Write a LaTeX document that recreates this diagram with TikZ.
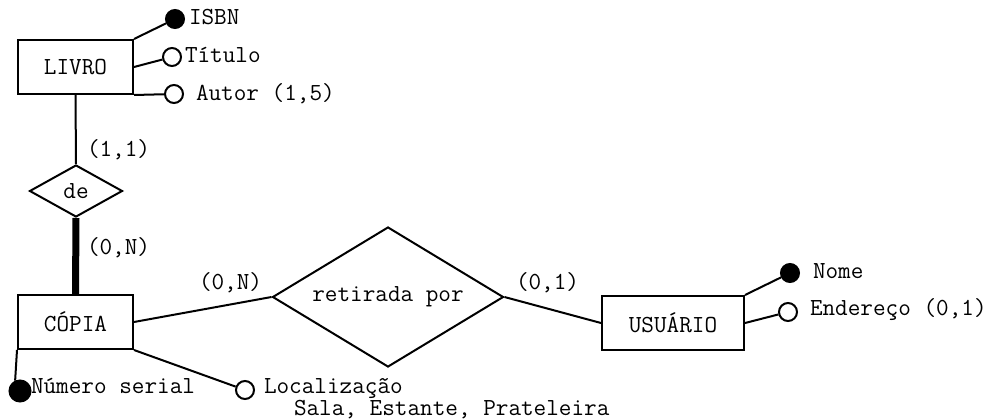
\documentclass[tikz,border=0pt]{standalone}
\usepackage{fontspec}
\usetikzlibrary{shapes.geometric}

\begin{document}
\begin{tikzpicture}[x=1pt,y=-1pt,line width=2pt,
  font=\ttfamily\fontsize{24.5}{28}\selectfont,
  entidade/.style={draw,rectangle,minimum height=54pt,inner sep=0pt},
  relacao/.style={draw,diamond,inner sep=0pt},
  atrib/.style={draw,circle,minimum size=18pt,inner sep=0pt},
  chave/.style={atrib,fill=black},
  rotulo/.style={anchor=base west,inner sep=0pt}]
  \useasboundingbox (0,0) rectangle (993,420);
  % entidades e relacionamentos
  \node[entidade,minimum width=115pt] (livro) at (75.5,67) {LIVRO};
  \node[entidade,minimum width=115pt] (copia) at (75.5,322) {CÓPIA};
  \node[entidade,minimum width=142pt] (usuario) at (673,323) {USUÁRIO};
  \node[relacao,minimum width=93pt,minimum height=52pt,aspect=1.8] (de) at (76,191) {de};
  \node[relacao,minimum width=231pt,minimum height=140pt,aspect=1.65] (retirada) at (388,297) {retirada por};
  \draw (livro.south) -- (de.north);
  \draw[line width=7pt] (de.south) -- (copia.north);
  \draw (copia.east) -- (retirada.west);
  \draw (retirada.east) -- (usuario.west);
  \node[rotulo] (c11) at (86,156) {(1,1)};
  \node[rotulo] (c0n) at (86,254) {(0,N)};
  \node[rotulo] (c0nr) at (198,289) {(0,N)};
  \node[rotulo] (c01r) at (515,289) {(0,1)};
  % atributos de LIVRO
  \node[chave] (isbn) at (175,19) {};
  \node[atrib] (titulo) at (172,57) {};
  \node[atrib] (autor) at (174,94) {};
  \draw (livro.north east) -- (isbn);
  \draw (livro.east) -- (titulo);
  \draw (livro.south east) -- (autor);
  \node[rotulo] (isbnt) at (188,25) {ISBN};
  \node[rotulo] (titulot) at (184,63) {Título};
  \node[rotulo] (autort) at (195,100) {Autor (1,5)};
  % atributos de USUARIO
  \node[chave] (nome) at (790,273) {};
  \node[atrib] (ender) at (788,312) {};
  \draw (usuario.north east) -- (nome);
  \draw (usuario.east) -- (ender);
  \node[rotulo] (nomet) at (812,278) {Nome};
  \node[rotulo] (endert) at (809,315) {Endereço (0,1)};
  % atributos de COPIA
  \node[chave,minimum size=21pt] (numero) at (20,391) {};
  \node[atrib] (local) at (245,390) {};
  \draw (copia.south west) -- (numero.115);
  \draw (copia.south east) -- (local);
  \node[rotulo] (numerot) at (30,393) {Número serial};
  \node[rotulo] (localt) at (263,393) {Localização};
  \node[rotulo] (salat) at (293,415) {Sala, Estante, Prateleira};
\end{tikzpicture}
\end{document}
